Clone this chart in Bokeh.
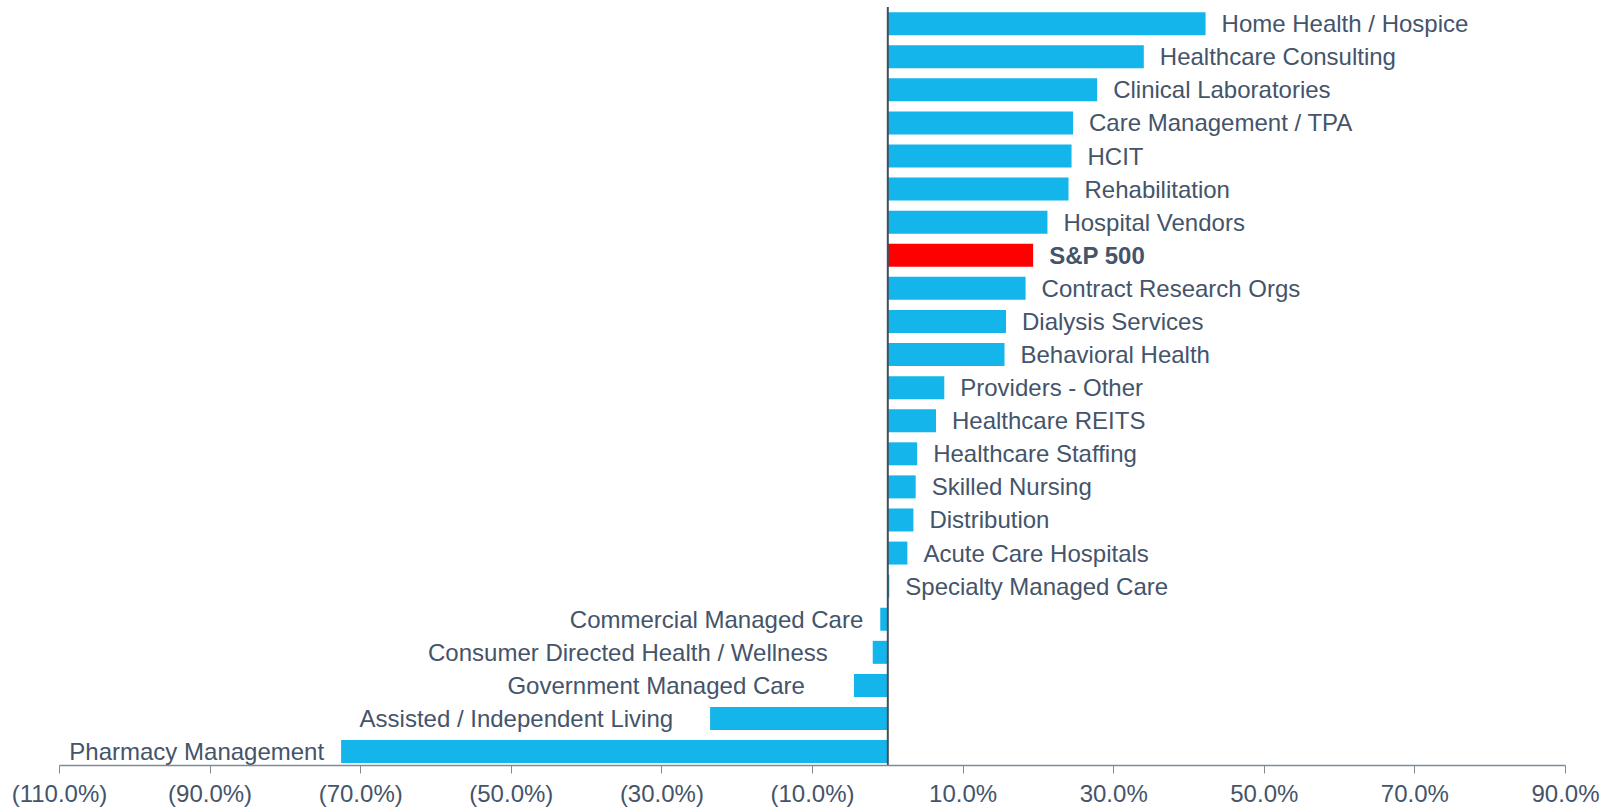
from bokeh.plotting import figure
from bokeh.models import ColumnDataSource, Range1d, FixedTicker
from bokeh.core.properties import value
from bokeh.embed import file_html
from bokeh.resources import INLINE

categories = [
    "Home Health / Hospice", "Healthcare Consulting", "Clinical Laboratories",
    "Care Management / TPA", "HCIT", "Rehabilitation", "Hospital Vendors",
    "S&P 500", "Contract Research Orgs", "Dialysis Services", "Behavioral Health",
    "Providers - Other", "Healthcare REITS", "Healthcare Staffing", "Skilled Nursing",
    "Distribution", "Acute Care Hospitals", "Specialty Managed Care",
    "Commercial Managed Care", "Consumer Directed Health / Wellness",
    "Government Managed Care", "Assisted / Independent Living", "Pharmacy Management",
]
values = [
    42.2, 34.0, 27.8, 24.6, 24.4, 24.0, 21.2, 19.3, 18.3, 15.7, 15.5,
    7.5, 6.4, 3.9, 3.7, 3.4, 2.6, 0.2, -1.0, -2.0, -4.5, -23.6, -72.6,
]
highlight = "S&P 500"
tick_values = [-110, -90, -70, -50, -30, -10, 10, 30, 50, 70, 90]

# label gap (px) between bar end and its label, as placed in the original
label_gap = [16] * 18 + [17, 45, 49, 37, 17]

BLUE = "#13B5EA"
RED = "#FF0000"
TEXT = "#44546A"
FONT = "Liberation Sans"
FS = "24px"

n = len(categories)
ypos = [n - 1 - i for i in range(n)]
colors = [RED if c == highlight else BLUE for c in categories]

src = ColumnDataSource(dict(y=ypos, right=values, color=colors))
p_yr = Range1d(-0.42, n - 1 + 0.70)
p = figure(width=1608, height=809, output_backend="svg", toolbar_location=None,
           x_range=Range1d(-110, 90), y_range=p_yr,
           min_border_left=59, min_border_right=43, min_border_top=0)
p.hbar(y="y", left=0, right="right", height=0.695, color="color", line_color=None, source=src)

for c, v, y, g in zip(categories, values, ypos, label_gap):
    p.text(x=[v], y=[y], text=[c],
           x_offset=g if v >= 0 else -g,
           text_align="left" if v >= 0 else "right", text_baseline="middle",
           text_font=value(FONT), text_font_size=FS, text_color=TEXT,
           text_font_style="bold" if c == highlight else "normal")

# zero reference line
p.segment(x0=0, y0=p_yr.start, x1=0, y1=n - 0.5, line_color="#3F4F5C", line_width=2)

p.yaxis.visible = False
p.xgrid.visible = False
p.ygrid.visible = False
p.outline_line_color = None

ax = p.xaxis[0]
ax.ticker = FixedTicker(ticks=tick_values)
ax.major_label_overrides = {t: (f"({abs(t):.1f}%)" if t < 0 else f"{t:.1f}%") for t in tick_values}
ax.minor_tick_line_color = None
ax.major_tick_in = 0
ax.major_tick_out = 8
ax.axis_line_color = "#7F8C95"
ax.major_tick_line_color = "#7F8C95"
ax.axis_line_width = 1.5
ax.major_label_text_font = FONT
ax.major_label_text_font_size = FS
ax.major_label_text_color = TEXT
ax.major_label_standoff = 6

open("out.html", "w").write(file_html(p, INLINE))
